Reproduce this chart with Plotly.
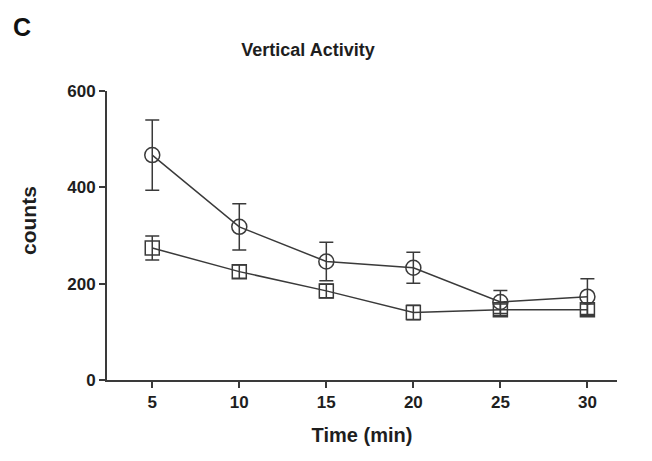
import plotly.graph_objects as go

time_min = [5, 10, 15, 20, 25, 30]
circle_mean = [467, 318, 246, 233, 162, 173]
circle_err = [73, 48, 40, 32, 24, 37]
square_mean = [274, 225, 185, 140, 146, 146]
square_err = [25, 14, 14, 15, 12, 12]

x_ticks = [5, 10, 15, 20, 25, 30]
y_ticks = [0, 200, 400, 600]

FONT = "Liberation Sans, Arial, sans-serif"
LINE = "#3a3a3a"
TXT = "#1e1e1e"

fig = go.Figure()

fig.add_trace(go.Scatter(
    x=time_min, y=square_mean, mode="lines+markers",
    line=dict(color=LINE, width=1.5),
    marker=dict(symbol="square-open", size=14, color=LINE, line=dict(width=1.5)),
    error_y=dict(type="data", array=square_err, visible=True, color=LINE, thickness=1.5, width=7),
    showlegend=False,
))
fig.add_trace(go.Scatter(
    x=time_min, y=circle_mean, mode="lines+markers",
    line=dict(color=LINE, width=1.5),
    marker=dict(symbol="circle-open", size=15, color=LINE, line=dict(width=1.5)),
    error_y=dict(type="data", array=circle_err, visible=True, color=LINE, thickness=1.5, width=7),
    showlegend=False,
))

fig.update_layout(
    width=652, height=461,
    margin=dict(l=107, r=35, t=91, b=81),
    paper_bgcolor="white", plot_bgcolor="white",
    font=dict(family=FONT, color=TXT, size=13),
    title=dict(text="<b>Vertical Activity</b>", x=308/652, xanchor="center",
               y=1 - 50/461, yanchor="middle", font=dict(size=18, family=FONT, color=TXT)),
    xaxis=dict(range=[2.4, 31.7], tickvals=x_ticks, ticktext=[f"<b>{v}</b>" for v in x_ticks],
               showgrid=False, zeroline=False, showline=True, linecolor=LINE, linewidth=2,
               ticks="outside", ticklen=6, tickwidth=2, tickcolor=LINE,
               tickfont=dict(size=17, family=FONT, color=TXT),
               title=dict(text="<b>Time (min)</b>", font=dict(size=20, family=FONT, color=TXT), standoff=17)),
    yaxis=dict(range=[0, 600], tickvals=y_ticks, ticktext=[f"<b>{v}</b>" for v in y_ticks],
               showgrid=False, zeroline=False, showline=True, linecolor=LINE, linewidth=2,
               ticks="outside", ticklen=6, tickwidth=2, tickcolor=LINE,
               tickfont=dict(size=17, family=FONT, color=TXT)),
    annotations=[
        dict(text="<b>C</b>", xref="paper", yref="paper", x=(11 - 107) / 510, y=1 + (91 - 27) / 289,
             xanchor="left", yanchor="middle", showarrow=False,
             font=dict(size=25, family=FONT, color="#111")),
        dict(text="<b>counts</b>", xref="paper", yref="paper", x=(28 - 107) / 510, y=(380 - 221) / 289,
             xanchor="center", yanchor="middle", textangle=-90, showarrow=False,
             font=dict(size=21, family=FONT, color=TXT)),
    ],
)

fig.write_html("out.html")
